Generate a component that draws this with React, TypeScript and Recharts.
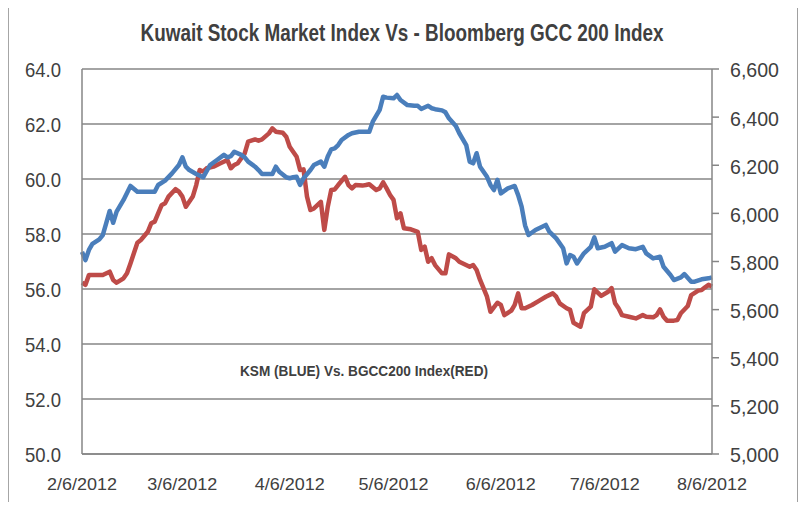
import React from "react";
import { LineChart, Line, XAxis, YAxis, CartesianGrid } from "recharts";

// days counted from 2/6/2012
const ksmDays = [
  0, 1, 2, 3, 5, 6, 7, 8, 9, 10,
  12, 14, 16, 18, 20, 21, 22, 24, 26, 28,
  29, 30, 31, 33, 35, 37, 39, 41, 42, 43,
  44, 46, 47, 48, 50, 51, 52, 54, 55, 56,
  57, 59, 60, 61, 62, 63, 64, 66, 67, 69,
  70, 71, 72, 73, 74, 75, 77, 78, 80, 81,
  83, 84, 86, 87, 88, 90, 91, 92, 94, 96,
  97, 98, 100, 101, 102, 104, 105, 106, 108, 109,
  111, 112, 113, 114, 115, 117, 118, 119, 120, 121,
  123, 125, 126, 127, 128, 129, 131, 134, 135, 137,
  139, 140, 141, 142, 143, 145, 147, 148, 149, 151,
  153, 154, 156, 158, 160, 162, 163, 165, 167, 168,
  170, 171, 173, 174, 176, 177, 179, 181, 182,
];
const ksmValues = [
  5840, 5806, 5848, 5873, 5892, 5910, 5959, 6010, 5961, 6007,
  6056, 6114, 6090, 6090, 6090, 6090, 6118, 6136, 6166, 6201,
  6233, 6194, 6180, 6164, 6150, 6201, 6222, 6243, 6233, 6238,
  6256, 6243, 6233, 6215, 6194, 6180, 6164, 6164, 6164, 6194,
  6173, 6150, 6146, 6150, 6152, 6118, 6146, 6180, 6201, 6215,
  6194, 6236, 6266, 6270, 6284, 6305, 6326, 6333, 6339, 6339,
  6339, 6381, 6430, 6485, 6481, 6478, 6492, 6471, 6450, 6447,
  6447, 6434, 6447, 6437, 6433, 6428, 6420, 6395, 6363, 6333,
  6284, 6215, 6208, 6250, 6194, 6152, 6118, 6097, 6139, 6083,
  6104, 6114, 6076, 6028, 5950, 5910, 5931, 5952, 5924, 5896,
  5855, 5792, 5827, 5820, 5792, 5834, 5861, 5900, 5855, 5861,
  5876, 5841, 5868, 5855, 5851, 5861, 5834, 5813, 5820, 5778,
  5744, 5723, 5734, 5748, 5716, 5716, 5726, 5730, 5734,
];

const bgccDays = [
  0, 1, 2, 4, 6, 8, 9, 10, 12, 13,
  14, 16, 17, 19, 20, 21, 23, 24, 25, 27,
  28, 29, 30, 32, 33, 34, 35, 36, 38, 40,
  42, 43, 44, 45, 47, 48, 50, 51, 52, 54,
  55, 56, 58, 59, 60, 62, 63, 64, 65, 66,
  67, 69, 70, 71, 72, 73, 74, 76, 77, 78,
  79, 81, 82, 83, 85, 86, 87, 88, 89, 90,
  91, 92, 93, 95, 97, 98, 99, 100, 101, 102,
  104, 105, 106, 108, 109, 112, 113, 114, 115, 117,
  118, 120, 121, 122, 124, 125, 126, 127, 128, 130,
  132, 134, 136, 137, 138, 140, 141, 142, 144, 145,
  147, 148, 149, 150, 152, 153, 154, 155, 156, 158,
  160, 162, 163, 165, 166, 167, 168, 169, 171, 172,
  173, 175, 176, 178, 179, 180, 181, 182,
];
const bgccValues = [
  56.23, 56.15, 56.51, 56.51, 56.51, 56.63, 56.33, 56.23, 56.39, 56.57,
  56.93, 57.68, 57.78, 58.08, 58.39, 58.45, 59.05, 59.12, 59.36, 59.63,
  59.54, 59.36, 58.99, 59.36, 59.78, 60.33, 60.27, 60.39, 60.45, 60.57,
  60.69, 60.39, 60.51, 60.57, 60.93, 61.36, 61.44, 61.39, 61.44, 61.66,
  61.84, 61.72, 61.68, 61.54, 61.17, 60.81, 60.33, 60.35, 59.36, 58.87,
  58.93, 59.17, 58.15, 58.99, 59.6, 59.62, 59.78, 60.08, 59.78, 59.66,
  59.78, 59.76, 59.78, 59.81, 59.6, 59.66, 59.88, 59.66, 59.42, 59.24,
  58.57, 58.75, 58.21, 58.17, 58.08, 57.42, 57.54, 56.99, 57.12, 56.87,
  56.57, 56.57, 57.26, 57.12, 56.99, 56.81, 56.87, 56.69, 56.33, 55.72,
  55.17, 55.5, 55.42, 55.05, 55.21, 55.42, 55.84, 55.3, 55.3, 55.42,
  55.57, 55.72, 55.84, 55.72, 55.48, 55.3, 55.24, 54.77, 54.63, 55.12,
  55.36, 55.99, 55.87, 55.75, 55.9, 56.03, 55.48, 55.3, 55.05, 54.99,
  54.93, 55.05, 54.99, 54.97, 55.05, 55.26, 54.99, 54.85, 54.85, 54.87,
  55.12, 55.38, 55.78, 55.94, 55.96, 56.06, 56.15, 56.09,
];

const tickDays = [0, 29, 60, 90, 121, 151, 182];
const tickLabels = ["2/6/2012", "3/6/2012", "4/6/2012", "5/6/2012", "6/6/2012", "7/6/2012", "8/6/2012"];
const leftTicks = [50, 52, 54, 56, 58, 60, 62, 64];
const rightTicks = [5000, 5200, 5400, 5600, 5800, 6000, 6200, 6400, 6600];

const ksmData = ksmDays.map((day, i) => ({ day, ksm: ksmValues[i] }));
const bgccData = bgccDays.map((day, i) => ({ day, bgcc: bgccValues[i] }));

const FONT = '"Liberation Sans", Arial, sans-serif';
const GRAY = "#868686";
const TEXT = "#404040";

// narrow ticks, to look like the Calibri labels of the original
function makeTick(fontSize: number, width: number, dy: string, format: (v: number) => string) {
  return (props: any) => {
    const { x, y, payload, textAnchor } = props;
    return (
      <text
        x={x}
        y={y}
        dy={dy}
        textAnchor={textAnchor}
        fontFamily={FONT}
        fontSize={fontSize}
        fill={TEXT}
        textLength={width}
        lengthAdjust="spacingAndGlyphs"
      >
        {format(payload.value)}
      </text>
    );
  };
}

const dateTick = makeTick(17, 70, "0.71em", (v) => tickLabels[tickDays.indexOf(v)] ?? "");
const leftTick = makeTick(21, 36, "0.4em", (v) => v.toFixed(1));
const rightTick = makeTick(21, 49, "0.4em", (v) => v.toLocaleString("en-US"));

export default function App() {
  return (
    <div style={{ position: "relative", width: 806, height: 510, margin: -8, background: "#fff", overflow: "hidden" }}>
      <LineChart width={806} height={510} margin={{ top: 69, right: 0, bottom: 0, left: 0 }}>
        <CartesianGrid yAxisId="left" vertical={false} stroke={GRAY} strokeWidth={1.5} />
        <XAxis
          dataKey="day"
          type="number"
          domain={[0, 182]}
          ticks={tickDays}
          interval={0}
          tick={dateTick}
          tickLine={false}
          tickSize={0}
          tickMargin={24}
          height={56}
          axisLine={{ stroke: GRAY, strokeWidth: 1.5 }}
        />
        <YAxis
          yAxisId="left"
          domain={[50, 64]}
          ticks={leftTicks}
          interval={0}
          tick={leftTick}
          tickLine={false}
          tickSize={0}
          tickMargin={21}
          width={82}
          axisLine={{ stroke: GRAY, strokeWidth: 1.5 }}
        />
        <YAxis
          yAxisId="right"
          orientation="right"
          domain={[5000, 6600]}
          ticks={rightTicks}
          interval={0}
          tick={rightTick}
          tickLine={{ stroke: GRAY, strokeWidth: 1.5 }}
          tickSize={7}
          tickMargin={11}
          width={94}
          axisLine={{ stroke: GRAY, strokeWidth: 1.5 }}
        />
        <Line
          yAxisId="left"
          data={bgccData}
          dataKey="bgcc"
          stroke="#BE4B48"
          strokeWidth={4.5}
          dot={false}
          strokeLinejoin="round"
          isAnimationActive={false}
        />
        <Line
          yAxisId="right"
          data={ksmData}
          dataKey="ksm"
          stroke="#4A7EBB"
          strokeWidth={4.5}
          dot={false}
          strokeLinejoin="round"
          isAnimationActive={false}
        />
      </LineChart>

      <svg width={806} height={510} style={{ position: "absolute", left: 0, top: 0, pointerEvents: "none" }}>
        <text
          x={402}
          y={41}
          textAnchor="middle"
          fontFamily={FONT}
          fontWeight="bold"
          fontSize={24}
          fill={TEXT}
          textLength={523}
          lengthAdjust="spacingAndGlyphs"
        >
          Kuwait Stock Market Index Vs - Bloomberg GCC 200 Index
        </text>
        <text
          x={364}
          y={376}
          textAnchor="middle"
          fontFamily={FONT}
          fontWeight="bold"
          fontSize={15}
          fill={TEXT}
          textLength={248}
          lengthAdjust="spacingAndGlyphs"
        >
          KSM (BLUE) Vs. BGCC200 Index(RED)
        </text>
      </svg>

      {/* outer frame */}
      <div style={{ position: "absolute", left: 8, top: 0, width: 1, height: 505, background: "#a6a6a6" }} />
      <div style={{ position: "absolute", left: 0, top: 505, width: 797, height: 5, background: "#f0f0f0" }} />
      <div style={{ position: "absolute", left: 797, top: 0, width: 2, height: 510, background: "#a0a0a0" }} />
      <div style={{ position: "absolute", left: 802, top: 0, width: 4, height: 510, background: "#4a86d4" }} />
    </div>
  );
}
